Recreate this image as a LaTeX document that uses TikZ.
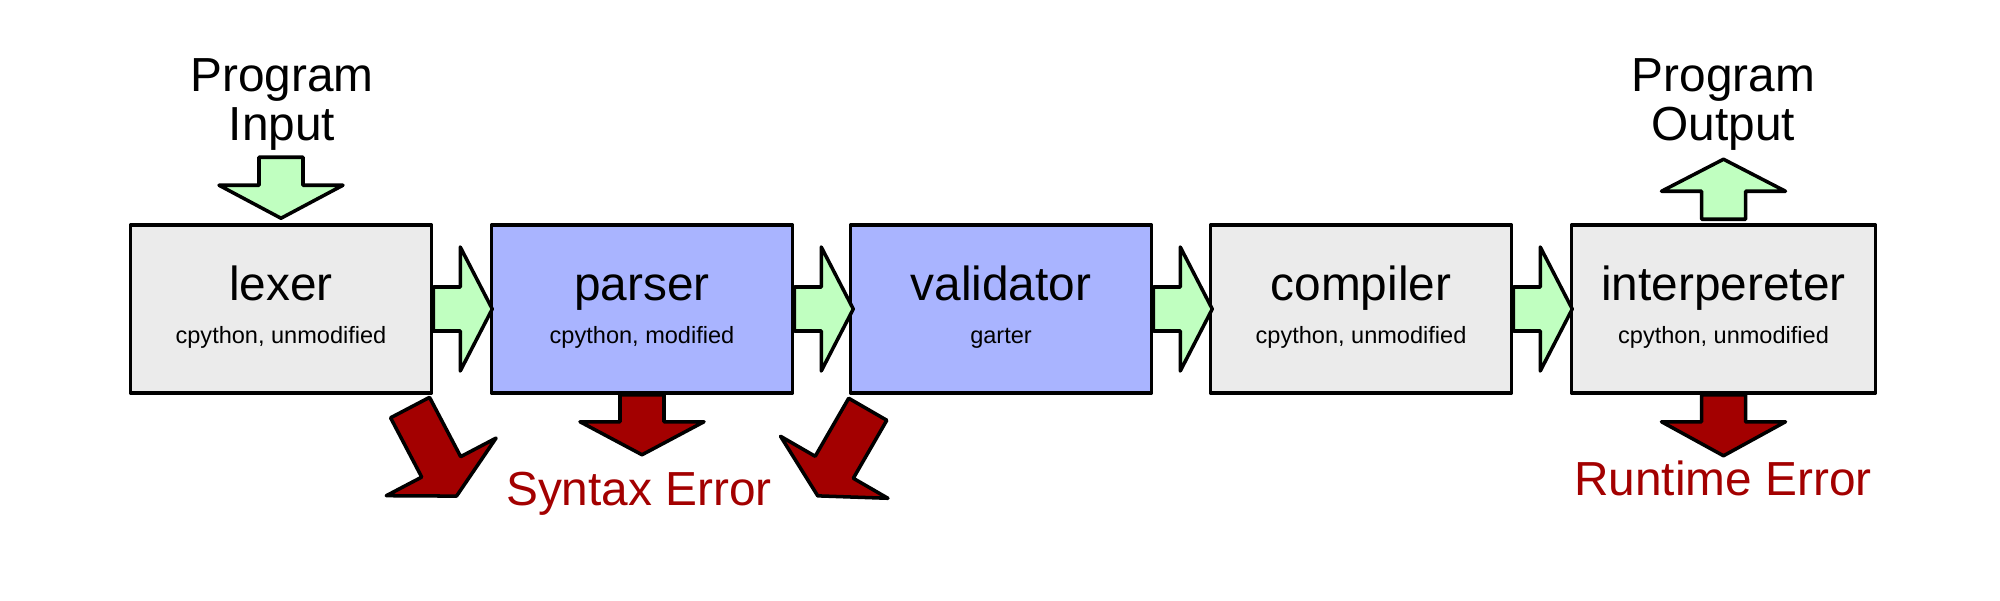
\documentclass[tikz,border=0pt]{standalone}
\usepackage{fontspec}
\setmainfont{Liberation Sans}
\usepackage{tikz}

\definecolor{stagegrey}{HTML}{EBEBEB}
\definecolor{stageblue}{HTML}{A9B4FF}
\definecolor{flowgreen}{HTML}{C0FFC0}
\definecolor{errred}{HTML}{A30000}

\tikzset{
  shaftlen/.store in=\shaftlen, shaftlen=0.27,
  headlen/.store in=\headlen, headlen=0.32,
  fatarrow/.pic={
    \filldraw (0,0.22) -- (\shaftlen,0.22) -- (\shaftlen,0.62) -- ++(\headlen,-0.62)
      -- (\shaftlen,-0.62) -- (\shaftlen,-0.22) -- (0,-0.22) -- cycle;
  }
}

\begin{document}
\begin{tikzpicture}[line width=1pt, line join=round,
    stage/.style={draw, minimum width=3.01cm, minimum height=1.68cm, inner sep=0pt},
    stagename/.style={anchor=base, font=\fontsize{13.6}{13.7}\selectfont},
    stagenote/.style={anchor=base, font=\fontsize{6.7}{8}\selectfont},
    errtext/.style={stagename, text=errred}]
    \useasboundingbox (0,0) rectangle (20,-6);

    % the five stages
    \node[stage, fill=stagegrey] (lexer) at (2.81,-3.09) {};
    \node[stage, fill=stageblue] (parser) at (6.42,-3.09) {};
    \node[stage, fill=stageblue] (validator) at (10.01,-3.09) {};
    \node[stage, fill=stagegrey] (compiler) at (13.61,-3.09) {};
    \node[stage, fill=stagegrey, minimum width=3.04cm] (interp) at (17.235,-3.09) {};

    \node[stagename] (lexer-name) at (2.81,-3.00) {lexer};
    \node[stagename] (parser-name) at (6.42,-3.00) {parser};
    \node[stagename] (validator-name) at (10.01,-3.00) {validator};
    \node[stagename] (compiler-name) at (13.61,-3.00) {compiler};
    \node[stagename] (interp-name) at (17.235,-3.00) {interpereter};

    \node[stagenote] (lexer-note) at (2.81,-3.43) {cpython, unmodified};
    \node[stagenote] (parser-note) at (6.42,-3.43) {cpython, modified};
    \node[stagenote] (validator-note) at (10.01,-3.43) {garter};
    \node[stagenote] (compiler-note) at (13.61,-3.43) {cpython, unmodified};
    \node[stagenote] (interp-note) at (17.235,-3.43) {cpython, unmodified};

    % flow between stages
    \pic[fill=flowgreen] at (lexer.east) {fatarrow};
    \pic[fill=flowgreen] at (parser.east) {fatarrow};
    \pic[fill=flowgreen] at (validator.east) {fatarrow};
    \pic[fill=flowgreen] at (compiler.east) {fatarrow};

    % program in and out
    \node[stagename, align=center] (input) at (2.82,-1.40) {Program\\Input};
    \node[stagename, align=center] (output) at (17.235,-1.40) {Program\\Output};
    \pic[fill=flowgreen, rotate=-90, shaftlen=0.28, headlen=0.33] at ([yshift=0.66cm]lexer.north) {fatarrow};
    \pic[fill=flowgreen, rotate=90, shaftlen=0.28] at ([yshift=0.04cm]interp.north) {fatarrow};

    % errors
    \pic[fill=errred, rotate=-62.3, shaftlen=0.67, headlen=0.33] at ([xshift=-0.232cm, yshift=-0.128cm]lexer.south east) {fatarrow};
    \pic[fill=errred, rotate=-90, headlen=0.33] at (parser.south) {fatarrow};
    \pic[fill=errred, rotate=-120, shaftlen=0.67, headlen=0.33] at ([xshift=0.19cm, yshift=-0.145cm]validator.south west) {fatarrow};
    \pic[fill=errred, rotate=-90, headlen=0.34] at (interp.south) {fatarrow};

    \node[errtext] (syntax) at (6.39,-5.05) {Syntax Error};
    \node[errtext] (runtime) at (17.23,-4.95) {Runtime Error};
\end{tikzpicture}
\end{document}
